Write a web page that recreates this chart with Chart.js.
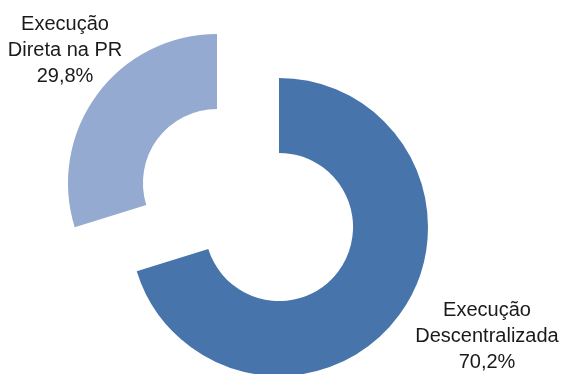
<!DOCTYPE html>
<html>
<head>
<meta charset="utf-8">
<script src="https://cdn.jsdelivr.net/npm/chart.js@4.4.1/dist/chart.umd.min.js"></script>
<style>
  html, body { margin: 0; padding: 0; background: #fff; }
  #wrap { position: relative; width: 565px; height: 374px; overflow: hidden; }
  #wrap canvas { position: absolute; left: 0; top: 0; }
</style>
</head>
<body>
<div id="wrap">
  <canvas id="c1" width="565" height="374"></canvas>
  <canvas id="c2" width="565" height="374"></canvas>
</div>
<script>
const categories = ['Execução Descentralizada', 'Execução Direta na PR'];
const values = [70.2, 29.8];
const labelTexts = [['Execução', 'Descentralizada'], ['Execução', 'Direta na PR']];
const sliceColors = ['#4774AA', '#95AAD1'];

function fmt(v) { return v.toFixed(1).replace('.', ',') + '%'; }

const labelPlugin = {
  id: 'sliceLabels',
  afterDraw(chart) {
    const ctx = chart.ctx;
    ctx.save();
    ctx.font = '20px "Liberation Sans", Arial, sans-serif';
    ctx.fillStyle = '#1a1a1a';
    ctx.textAlign = 'center';
    ctx.textBaseline = 'alphabetic';
    const spots = [{x: 487, y: 316}, {x: 65, y: 30}];
    categories.forEach((c, i) => {
      const lines = labelTexts[i].concat([fmt(values[i])]);
      lines.forEach((t, j) => ctx.fillText(t, spots[i].x, spots[i].y + j * 26));
    });
    ctx.restore();
  }
};

function makeChart(id, visibleIndex, padding, withLabels) {
  const colors = sliceColors.map((c, i) => i === visibleIndex ? c : 'rgba(0,0,0,0)');
  return new Chart(document.getElementById(id), {
    type: 'doughnut',
    data: {
      labels: categories,
      datasets: [{
        data: values,
        backgroundColor: colors,
        borderWidth: 0,
        hoverOffset: 0,
        radius: 149,
        cutout: '49.7%',
        clip: false
      }]
    },
    options: {
      responsive: false,
      animation: false,
      events: [],
      layout: { padding: padding },
      plugins: { legend: { display: false }, tooltip: { enabled: false } }
    },
    plugins: withLabels ? [labelPlugin] : []
  });
}

makeChart('c1', 0, { left: 0, right: 7, top: 80, bottom: 0 }, false);
makeChart('c2', 1, { left: 0, right: 131, top: 0, bottom: 8 }, true);
</script>
</body>
</html>
